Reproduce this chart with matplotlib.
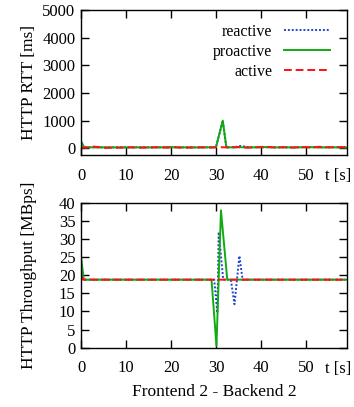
import matplotlib
matplotlib.use("Agg")
import matplotlib.pyplot as plt

plt.rcParams["font.family"] = ["Liberation Serif", "DejaVu Serif"]
plt.rcParams["font.size"] = 12

# HTTP RTT [ms]
rtt_t = [0, 0.7, 2, 4, 6, 8, 10, 12, 14, 16, 18, 20, 22, 24, 26, 28, 30,
         31.5, 32.3, 34, 35.5, 37, 39, 41, 43, 45, 47, 49, 51, 53, 55, 57, 59]
rtt_reactive = [30, 25, 35, 30, 28, 32, 30, 35, 30, 28, 30, 45, 30, 28, 30, 32, 40,
                1000, 30, 35, 80, 40, 35, 30, 35, 30, 28, 35, 40, 30, 32, 35, 30]
rtt_proactive = [250, 30, 30, 28, 30, 25, 30, 28, 30, 25, 30, 35, 28, 30, 25, 30, 40,
                 1000, 30, 30, 35, 25, 30, 40, 25, 30, 28, 30, 35, 25, 30, 28, 20]
rtt_active_t = [0, 1.5, 2.5, 4, 5, 7, 9, 11, 13, 15, 17, 19, 21, 23, 25, 27, 29, 31,
                33, 35, 37, 39, 41, 43, 45, 47, 49, 51, 53, 55, 57, 59]
rtt_active = [20, 25, 60, 40, 10, 15, 20, 30, 15, 25, 35, 20, 30, 15, 25, 30, 20, 35,
              25, 40, 20, 30, 55, 25, 35, 20, 40, 25, 50, 30, 35, 40]

# HTTP Throughput [MBps]
thr_reactive_t = [0, 0.6, 10, 20, 29.6, 30.3, 30.6, 31.6, 33.3, 34.1, 35.2, 35.9, 45, 59]
thr_reactive = [19, 18.8, 18.8, 18.8, 18.8, 9.6, 32, 18.8, 18.8, 12, 25.4, 18.8, 18.8, 18.8]
thr_proactive_t = [0, 0.6, 10, 20, 29.0, 30.1, 31.1, 32.5, 40, 50, 59]
thr_proactive = [25, 18.8, 18.8, 18.8, 18.8, 0.5, 38, 18.8, 18.8, 18.8, 18.8]
thr_active_t = [0, 0.5, 30, 59]
thr_active = [20, 18.8, 18.8, 18.8]

xticks = [0, 10, 20, 30, 40, 50]
c_reactive = "#2244cc"
c_proactive = "#11aa11"
c_active = "#ff1111"

fig = plt.figure(figsize=(3.54, 4.07), dpi=100)
ax1 = fig.add_axes([0.229, 0.619, 0.751, 0.356])
ax2 = fig.add_axes([0.229, 0.146, 0.751, 0.355])

ax1.plot(rtt_t, rtt_reactive, color=c_reactive, linestyle=(0, (1, 1)), linewidth=1.4,
         label="reactive")
ax1.plot(rtt_t, rtt_proactive, color=c_proactive, linewidth=1.4, label="proactive")
ax1.plot(rtt_active_t, rtt_active, color=c_active, linestyle=(0, (4, 2)), linewidth=1.4,
         label="active")
ax1.set_ylim(-250, 5000)
ax1.set_yticks([0, 1000, 2000, 3000, 4000, 5000])
ax1.set_ylabel("HTTP RTT [ms]", fontsize=12.5)
ax1.legend(loc="upper right", frameon=False, markerfirst=False, handlelength=2.9,
           labelspacing=0.25, borderaxespad=0.3, handletextpad=0.7, fontsize=11.5,
           bbox_to_anchor=(0.978, 0.985))

ax2.plot(thr_reactive_t, thr_reactive, color=c_reactive, linestyle=(0, (1, 1)),
         linewidth=1.4)
ax2.plot(thr_proactive_t, thr_proactive, color=c_proactive, linewidth=1.4)
ax2.plot(thr_active_t, thr_active, color=c_active, linestyle=(0, (4, 2)), linewidth=1.4)
ax2.set_ylim(0, 40)
ax2.set_yticks([0, 5, 10, 15, 20, 25, 30, 35, 40])
ax2.set_ylabel("HTTP Throughput [MBps]", fontsize=12.5)
ax2.set_xlabel("Frontend 2 - Backend 2", fontsize=12.5, labelpad=6)

for ax in (ax1, ax2):
    ax.set_xlim(0, 59.1)
    ax.set_xticks(xticks)
    ax.tick_params(direction="in", length=6, width=1, top=True, right=True, pad=9)
    ax.tick_params(axis="y", pad=4)
    for s in ax.spines.values():
        s.set_linewidth(1)
    ax.yaxis.set_label_coords(-0.165, 0.5)
    ax.text(0.966, -0.09, "t [s]", transform=ax.transAxes, ha="center", va="top")

fig.savefig("out.png", dpi=100)
